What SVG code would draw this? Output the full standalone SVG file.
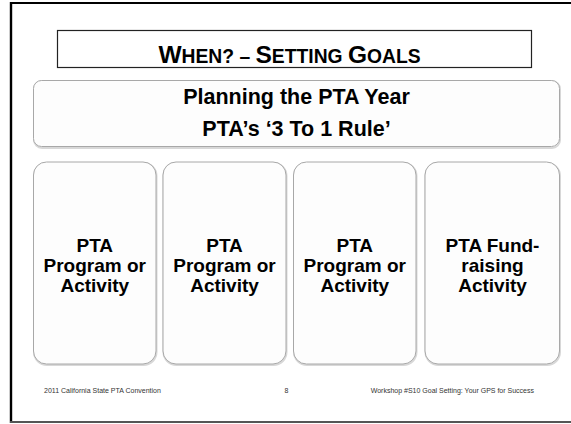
<svg xmlns="http://www.w3.org/2000/svg" width="571" height="424" viewBox="0 0 571 424">
<defs>
<style>
.bold{font-family:"Liberation Sans",Arial,sans-serif;font-weight:bold;fill:#000;text-anchor:middle}
.foot{font-family:"Liberation Sans",Arial,sans-serif;font-size:7px;fill:#333}
.rbox{fill:#fdfdfd;stroke:#a8a8a8;stroke-width:1}
.shadow{fill:none;stroke:#d8d8d8;stroke-width:2}
.card{font-size:19px}
</style>
</defs>
<rect width="571" height="424" fill="#fff"/>
<g id="frame">
<line x1="11" y1="3" x2="571" y2="3" stroke="#000" stroke-width="2.2"/>
<line x1="11" y1="2" x2="11" y2="423" stroke="#000" stroke-width="2.4"/>
<line x1="10" y1="422" x2="571" y2="422" stroke="#555" stroke-width="2"/>
</g>
<g id="title">
<rect x="57.5" y="30.5" width="474" height="37" fill="#fff" stroke="#222" stroke-width="1.2"/>
<text class="bold" x="289.5" y="62.5"><tspan font-size="24.5">W</tspan><tspan font-size="19.3">HEN? – </tspan><tspan font-size="24.5">S</tspan><tspan font-size="19.3">ETTING </tspan><tspan font-size="24.5">G</tspan><tspan font-size="19.3">OALS</tspan></text>
</g>
<g id="planning">
<rect class="shadow" x="34" y="81" width="526" height="67" rx="8"/>
<rect class="rbox" x="33.5" y="80.5" width="526" height="66" rx="8"/>
<text class="bold" x="296.5" y="104" font-size="21.5">Planning the PTA Year</text>
<text class="bold" x="296.5" y="136" font-size="21.5">PTA’s ‘3 To 1 Rule’</text>
</g>
<g id="box1">
<rect class="shadow" x="34" y="163" width="122.5" height="202" rx="13"/>
<rect class="rbox" x="33.5" y="162" width="122.5" height="202" rx="13"/>
<text class="bold card" x="94.75" y="252">PTA</text>
<text class="bold card" x="94.75" y="272">Program or</text>
<text class="bold card" x="94.75" y="291.5">Activity</text>
</g>
<g id="box2">
<rect class="shadow" x="163.5" y="163" width="123" height="202" rx="13"/>
<rect class="rbox" x="163" y="162" width="123" height="202" rx="13"/>
<text class="bold card" x="224.5" y="252">PTA</text>
<text class="bold card" x="224.5" y="272">Program or</text>
<text class="bold card" x="224.5" y="291.5">Activity</text>
</g>
<g id="box3">
<rect class="shadow" x="294" y="163" width="122.5" height="202" rx="13"/>
<rect class="rbox" x="293.5" y="162" width="122.5" height="202" rx="13"/>
<text class="bold card" x="354.75" y="252">PTA</text>
<text class="bold card" x="354.75" y="272">Program or</text>
<text class="bold card" x="354.75" y="291.5">Activity</text>
</g>
<g id="box4">
<rect class="shadow" x="425.5" y="163" width="134.5" height="202" rx="13"/>
<rect class="rbox" x="425" y="162" width="134.5" height="202" rx="13"/>
<text class="bold card" x="492.5" y="252">PTA Fund-</text>
<text class="bold card" x="492.5" y="272">raising</text>
<text class="bold card" x="492.5" y="291.5">Activity</text>
</g>
<g id="connectors"></g>
<g id="footer">
<text class="foot" x="44" y="393">2011 California State PTA Convention</text>
<text class="foot" x="286.5" y="393" text-anchor="middle">8</text>
<text class="foot" x="534" y="393" text-anchor="end">Workshop #S10 Goal Setting: Your GPS for Success</text>
</g>
</svg>
